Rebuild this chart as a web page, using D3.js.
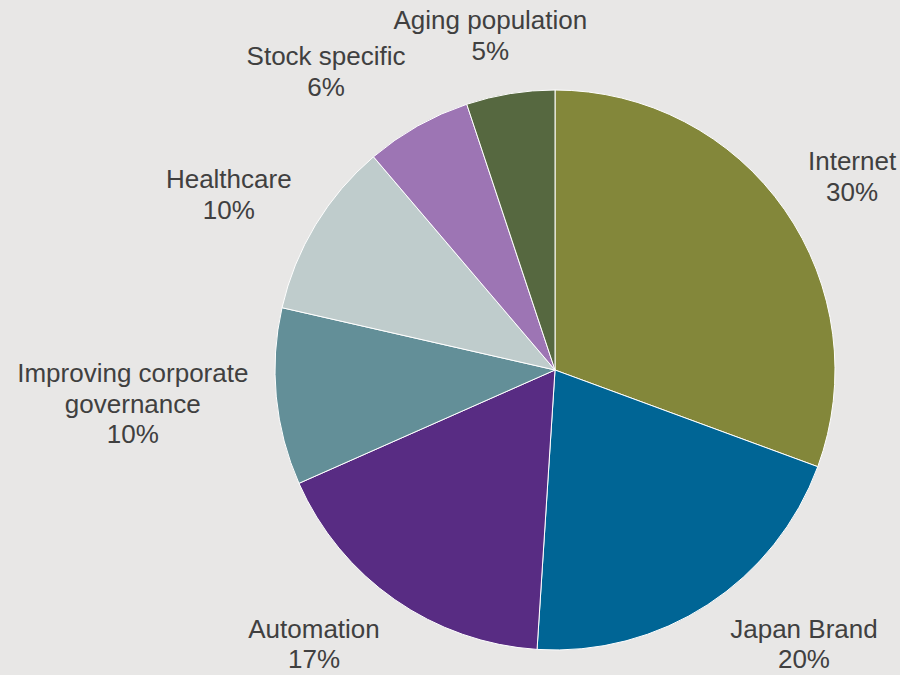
<!DOCTYPE html>
<html>
<head>
<meta charset="utf-8">
<script src="https://cdn.jsdelivr.net/npm/d3@7"></script>
<style>
  html, body { margin: 0; padding: 0; background: #e8e7e6; }
  svg { display: block; }
  text { font-family: "Liberation Sans", Arial, sans-serif; font-size: 26px; fill: #404040; }
</style>
</head>
<body>
<svg id="chart" width="900" height="675"></svg>
<script>
// Theme allocation, in percent, clockwise from 12 o'clock
const themes = ["Internet", "Japan Brand", "Automation", "Improving corporate governance",
                "Healthcare", "Stock specific", "Aging population"];
const shares = [30, 20, 17, 10, 10, 6, 5];
// Label lines for each theme (long names wrap onto two lines)
const labelLines = [["Internet"], ["Japan Brand"], ["Automation"], ["Improving corporate", "governance"],
                    ["Healthcare"], ["Stock specific"], ["Aging population"]];
const sliceColors = ["#83873a", "#006595", "#582c83", "#638f98", "#bfcccc", "#9d75b4", "#566840"];

const W = 900, H = 675;
const cx = 555, cy = 370, radius = 280;
const anchorR = 308;      // labels touch the slice's mid-ray at this distance
const clearR = 300;       // labels never come closer to the centre than this
const lineGap = 30.5;

const svg = d3.select("#chart");
const g = svg.append("g").attr("transform", `translate(${cx},${cy})`);

const data = themes.map((t, i) => ({ theme: t, value: shares[i], lines: labelLines[i] }));

const pie = d3.pie().value(d => d.value).sort(null).startAngle(0).endAngle(2 * Math.PI);
const arc = d3.arc().innerRadius(0).outerRadius(radius);
const color = d3.scaleOrdinal().domain(themes).range(sliceColors);

const arcs = pie(data);

g.selectAll("path.slice")
  .data(arcs)
  .join("path")
  .attr("class", "slice")
  .attr("d", arc)
  .attr("fill", d => color(d.data.theme))
  .attr("stroke", "#ffffff")
  .attr("stroke-width", 1);

// Labels: name line(s) plus percentage, centred, placed outside the pie
const labels = svg.selectAll("text.lbl")
  .data(arcs)
  .join("text")
  .attr("class", "lbl")
  .attr("text-anchor", "middle");

labels.each(function(d) {
  const t = d3.select(this);
  const lines = d.data.lines.concat([d.data.value + "%"]);
  lines.forEach((ln, i) => {
    t.append("tspan").attr("x", 0).attr("dy", i === 0 ? 0 : lineGap).text(ln);
  });
});

// Box of a label: the edge facing the pie meets the slice's mid-ray at anchorR
function placeBox(bb, ang) {
  const a = bb.width / 2, b = bb.height / 2;
  const ux = Math.sin(ang), uy = -Math.cos(ang);
  const sideways = Math.abs(ux) >= Math.abs(uy);
  const sx = sideways ? Math.sign(ux) : ux;
  const sy = sideways ? uy : Math.sign(uy);
  const px = cx + ux * anchorR, py = cy + uy * anchorR;
  let mx = px + a * sx, my = py + b * sy;

  // keep the label inside the drawing area, sliding it clear of the pie if needed
  let clampedY = false;
  if (my + b > H - 1) { my = H - 1 - b; clampedY = true; }
  if (my - b < 4) { my = 4 + b; clampedY = true; }
  if (clampedY) {
    const top = my - b, bottom = my + b;
    const dy = (top > cy) ? top - cy : (bottom < cy ? cy - bottom : 0);
    if (dy < clearR) {
      const dx = Math.sqrt(clearR * clearR - dy * dy);
      if (ux > 0) mx = Math.max(mx, cx + dx + a);
      else mx = Math.min(mx, cx - dx - a);
    }
  }
  if (mx + a > W - 2) mx = W - 2 - a;
  if (mx - a < 2) mx = 2 + a;
  return { mx, my, a, b, bb, ux };
}

function overlaps(p, q, inset) {
  return Math.abs(p.mx - q.mx) < p.a + q.a - 2 * inset &&
         Math.abs(p.my - q.my) < p.b + q.b - 2 * inset;
}

const nodes = labels.nodes();
const boxes = arcs.map((d, i) => placeBox(nodes[i].getBBox(), (d.startAngle + d.endAngle) / 2));

// Walk counter-clockwise from the top; slide a label outward until it clears its neighbour
const inset = 6;
for (let i = arcs.length - 2; i >= 0; i--) {
  const p = boxes[i], q = boxes[i + 1];
  if (overlaps(p, q, inset)) {
    const need = p.a + q.a - 2 * inset;
    p.mx = p.ux < 0 ? q.mx - need : q.mx + need;
  }
}

labels.attr("transform", (d, i) => {
  const p = boxes[i];
  return `translate(${p.mx},${p.my - (p.bb.y + p.b)})`;
});
</script>
</body>
</html>
